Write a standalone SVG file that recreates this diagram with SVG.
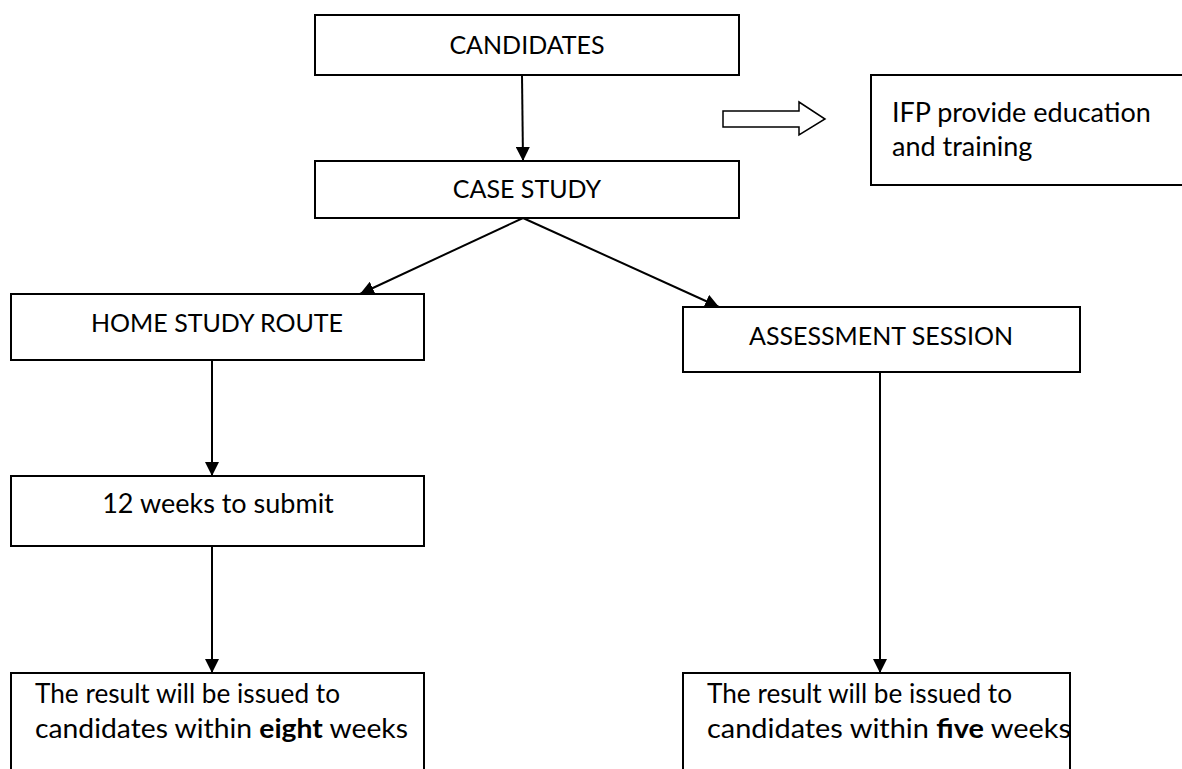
<svg xmlns="http://www.w3.org/2000/svg" width="1182" height="769" viewBox="0 0 1182 769">
<defs>
<style>
.box{fill:#fff;stroke:#000;stroke-width:2}
.t{font-family:Lato,"Liberation Sans",sans-serif;font-size:25px;fill:#000}
.s{font-size:27px}
.c{text-anchor:middle}
.ln{stroke:#000;stroke-width:2;fill:none;marker-end:url(#ah)}
</style>
<marker id="ah" viewBox="0 0 14 14" refX="14" refY="7" markerWidth="14" markerHeight="14" orient="auto" markerUnits="userSpaceOnUse">
<path d="M0,0 L14,7 L0,14 z" fill="#000"/>
</marker>
</defs>
<rect width="1182" height="769" fill="#fff"/>
<g id="candidates"><rect class="box" x="315" y="15" width="424" height="60"/><text class="t c" x="527" y="54">CANDIDATES</text></g>
<g id="case-study"><rect class="box" x="315" y="161" width="424" height="57"/><text class="t c" x="527" y="198">CASE STUDY</text></g>
<g id="ifp"><rect class="box" x="871" y="75" width="320" height="110"/><text class="t s" x="892" y="122">IFP provide education</text><text class="t s" x="892" y="156">and training</text></g>
<g id="hollow-arrow"><path d="M723,111 L799,111 L799,102 L825,119 L799,135 L799,127 L723,127 Z" fill="#fff" stroke="#000" stroke-width="1.5"/></g>
<g id="home-study"><rect class="box" x="11" y="294" width="413" height="66"/><text class="t c" x="217" y="332">HOME STUDY ROUTE</text></g>
<g id="assessment"><rect class="box" x="683" y="307" width="397" height="65"/><text class="t c" x="881" y="345">ASSESSMENT SESSION</text></g>
<g id="weeks12"><rect class="box" x="11" y="476" width="413" height="70"/><text class="t c s" x="218" y="513">12 weeks to submit</text></g>
<g id="result-eight"><path class="box" d="M11,780 L11,673 L424,673 L424,780"/><text class="t s" x="35" y="703" textLength="305" lengthAdjust="spacingAndGlyphs">The result will be issued to</text><text class="t s" x="35" y="738" textLength="373" lengthAdjust="spacingAndGlyphs">candidates within <tspan font-weight="bold">eight</tspan> weeks</text></g>
<g id="result-five"><path class="box" d="M683,780 L683,673 L1070,673 L1070,780"/><text class="t s" x="707" y="703" textLength="305" lengthAdjust="spacingAndGlyphs">The result will be issued to</text><text class="t s" x="707" y="738" textLength="364" lengthAdjust="spacingAndGlyphs">candidates within <tspan font-weight="bold">five</tspan> weeks</text></g>
<g id="connectors">
<line class="ln" x1="522" y1="75" x2="523" y2="161"/>
<line class="ln" x1="523" y1="218" x2="360" y2="294"/>
<line class="ln" x1="523" y1="218" x2="719" y2="307"/>
<line class="ln" x1="212" y1="360" x2="212" y2="476"/>
<line class="ln" x1="212" y1="546" x2="212" y2="673"/>
<line class="ln" x1="880" y1="372" x2="880" y2="673"/>
</g>
</svg>
